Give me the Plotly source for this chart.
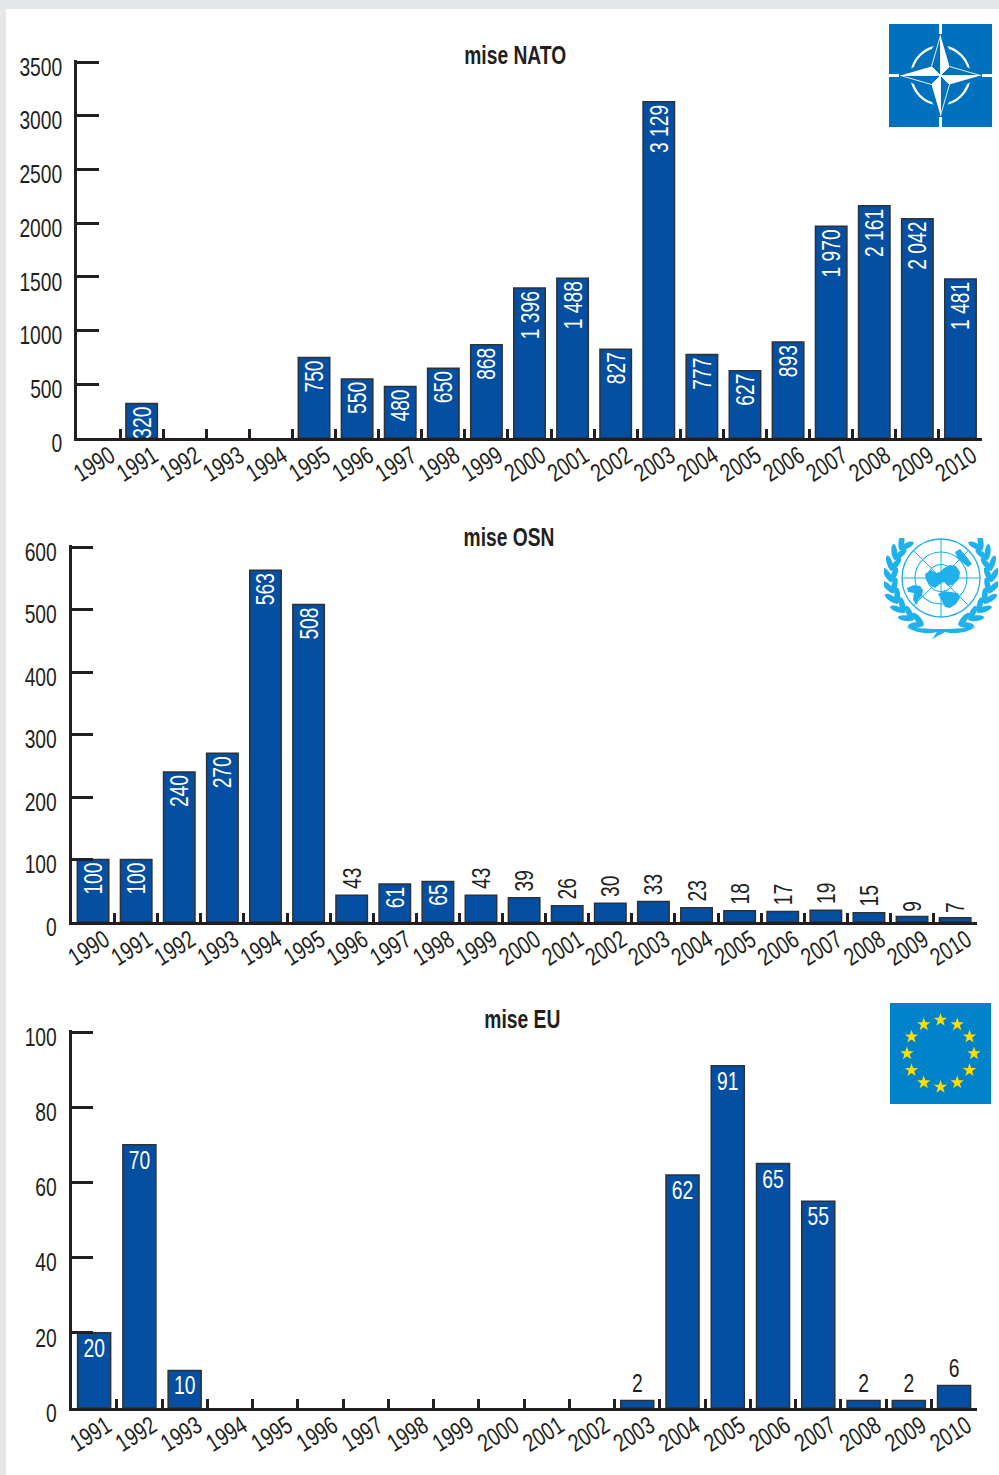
import base64, math
import plotly.graph_objects as go

W, H = 999, 1475
FONT = "Liberation Sans, Arial, sans-serif"
FS = 25
INK = "#231f20"
BAR = "#044fa2"

years_nato = list(range(1990, 2011))
values_nato = [None, 320, None, None, None, 750, 550, 480, 650, 868, 1396, 1488,
               827, 3129, 777, 627, 893, 1970, 2161, 2042, 1481]
ticks_nato = [0, 500, 1000, 1500, 2000, 2500, 3000, 3500]

years_osn = list(range(1990, 2011))
values_osn = [100, 100, 240, 270, 563, 508, 43, 61, 65, 43, 39, 26, 30, 33, 23,
              18, 17, 19, 15, 9, 7]
ticks_osn = [0, 100, 200, 300, 400, 500, 600]

years_eu = list(range(1991, 2011))
values_eu = [20, 70, 10, None, None, None, None, None, None, None, None, None,
             2, 62, 91, 65, 55, 2, 2, 6]
ticks_eu = [0, 20, 40, 60, 80, 100]


def svg_uri(body, w, h):
    s = f'<svg xmlns="http://www.w3.org/2000/svg" width="{w}" height="{h}" viewBox="0 0 {w} {h}">{body}</svg>'
    return "data:image/svg+xml;base64," + base64.b64encode(s.encode()).decode()


def nato_logo():
    c = 51.5
    b = '<rect width="103" height="103" fill="#0071bc"/>'
    b += f'<circle cx="{c}" cy="{c}" r="29" fill="none" stroke="#fff" stroke-width="2.4"/>'
    for a in range(0, 360, 90):
        b += (f'<g transform="rotate({a} {c} {c})">'
              f'<polygon points="{c},{c-42} {c+10},{c-24} {c},{c} {c-10},{c-24}" fill="#0071bc"/>'
              f'<rect x="{c-1.5}" y="0" width="3" height="10" fill="#fff"/></g>')
    for a in range(0, 360, 90):
        b += (f'<g transform="rotate({a} {c} {c})">'
              f'<polygon points="{c},{c-40} {c+9},{c-9} {c},{c}" fill="#fff"/>'
              f'<polygon points="{c},{c-40} {c-9},{c-9} {c},{c}" fill="#0071bc" stroke="#fff" stroke-width="0.9"/>'
              f'</g>')
    return svg_uri(b, 103, 103)


def eu_logo():
    b = '<rect width="101" height="101" fill="#0083ca"/>'
    c = 50.5
    for i in range(12):
        a = math.radians(i * 30)
        x, y = c + 33.5 * math.sin(a), c - 33.5 * math.cos(a)
        pts = []
        for k in range(10):
            r = 7 if k % 2 == 0 else 2.8
            t = math.radians(k * 36)
            pts.append(f"{x + r * math.sin(t):.2f},{y - r * math.cos(t):.2f}")
        b += f'<polygon points="{" ".join(pts)}" fill="#ffdd00"/>'
    return svg_uri(b, 101, 101)


def un_logo():
    col = "#1fb1ec"
    cx, cy = 57, 40
    b = ""
    for r, sw in ((39, 1.3), (26, 1.1), (13.5, 1.1)):
        b += f'<circle cx="{cx}" cy="{cy}" r="{r}" fill="none" stroke="{col}" stroke-width="{sw}"/>'
    for a in range(0, 180, 45):
        t = math.radians(a)
        dx, dy = 39 * math.cos(t), 39 * math.sin(t)
        b += f'<line x1="{cx-dx:.1f}" y1="{cy-dy:.1f}" x2="{cx+dx:.1f}" y2="{cy+dy:.1f}" stroke="{col}" stroke-width="1"/>'
    for p in [
        "41,36 47,32 52,35 56,34 60,30 66,27 72,28 76,34 75,41 70,46 64,48 60,44 56,46 51,50 46,47 42,42",
        "23,50 30,47 36,48 39,52 38,58 34,62 33,67 29,62 30,55 24,54",
        "54,56 60,53 67,54 74,55 76,60 72,66 66,70 61,69 58,63",
        "71,14 76,11 82,18 88,26 84,29 78,24 73,19",
    ]:
        b += f'<polygon points="{p}" fill="{col}"/>'
    leaves = ""
    R = 50
    for i in range(9):
        phi = math.radians(22 + i * 13)
        x, y = cx - R * math.sin(phi), cy + R * math.cos(phi)
        base = math.atan2(-math.sin(phi), -math.cos(phi))
        for off in (-0.5, 0.5):
            d = base + off
            xx, yy = x + 6.5 * math.cos(d), y + 6.5 * math.sin(d)
            leaves += (f'<ellipse cx="{xx:.1f}" cy="{yy:.1f}" rx="8" ry="2.9" fill="{col}" '
                       f'transform="rotate({math.degrees(d):.1f} {xx:.1f} {yy:.1f})"/>')
    b += leaves + f'<g transform="translate({2*cx} 0) scale(-1 1)">{leaves}</g>'
    b += f'<path d="M22 89 Q42 91 57 91 Q72 91 92 89 Q76 98 61 94 L48 101 L53 94 Q38 98 22 89 Z" fill="{col}"/>'
    return svg_uri(b, 114, 102)


def px(v):
    return v / W


def py(v):
    return 1 - v / H


PANELS = [
    dict(years=years_nato, values=values_nato, ticks=ticks_nato, top=3500, x0=77, x1=982, y0=438, y1=62,
         min_inside=100, angle=-90, title="mise NATO", tx=515, ty=55),
    dict(years=years_osn, values=values_osn, ticks=ticks_osn, top=600, x0=71.5, x1=976.7, y0=922, y1=547,
         min_inside=50, angle=-90, title="mise OSN", tx=509, ty=537),
    dict(years=years_eu, values=values_eu, ticks=ticks_eu, top=100, x0=71.5, x1=976.7, y0=1408, y1=1032,
         min_inside=8, angle=0, title="mise EU", tx=522, ty=1019),
]

fig = go.Figure()
layout = dict(
    width=W, height=H, autosize=False, margin=dict(l=0, r=0, t=0, b=0, pad=0),
    paper_bgcolor="#e6e7e9", plot_bgcolor="rgba(0,0,0,0)", showlegend=False,
    font=dict(family=FONT, size=FS, color=INK),
    shapes=[dict(type="rect", xref="paper", yref="paper", x0=px(6), x1=1, y0=0, y1=py(9),
                 fillcolor="white", line_width=0, layer="below")],
    annotations=[], images=[],
)

HEAD = 2  # px of headroom so the top tick is not dropped at the range end
for n, p in enumerate(PANELS, start=1):
    idx = list(range(len(p["years"])))
    labels = [None if v is None else f"{v:,}".replace(",", " ") for v in p["values"]]
    pos = ["outside" if (v is not None and v < p["min_inside"]) else "inside" for v in p["values"]]
    s = "" if n == 1 else str(n)
    span = p["y0"] - p["y1"]
    fig.add_trace(go.Bar(
        x=idx, y=p["values"], text=labels, textposition=pos, textangle=p["angle"],
        insidetextanchor="end", constraintext="none", cliponaxis=False,
        insidetextfont=dict(family=FONT, size=FS, color="white"),
        outsidetextfont=dict(family=FONT, size=FS, color=INK),
        marker=dict(color=BAR, line=dict(color="#2e3135", width=1.5)),
        width=0.73, xaxis=f"x{s}", yaxis=f"y{s}", hoverinfo="skip",
    ))
    layout[f"xaxis{s}"] = dict(
        domain=[px(p["x0"]), px(p["x1"])], anchor=f"y{s}", range=[-0.5, len(idx) - 0.5],
        tickmode="array", tickvals=[-0.5] + [i + 0.5 for i in idx],
        ticktext=[""] + [str(y) for y in p["years"]],
        tickangle=-32, ticks="inside", ticklen=9, tickwidth=2.5, tickcolor=INK,
        showline=True, linecolor=INK, linewidth=2.5, showgrid=False, zeroline=False,
        ticklabelstandoff=-9, ticklabelshift=-10,
        automargin=False, tickfont=dict(family=FONT, size=FS, color=INK),
    )
    layout[f"yaxis{s}"] = dict(
        domain=[py(p["y0"]), py(p["y1"] - HEAD)], anchor=f"x{s}",
        range=[0, p["top"] * (1 + HEAD / span)],
        tickmode="array", tickvals=p["ticks"], ticktext=[str(t) for t in p["ticks"]],
        ticks="inside", ticklen=22, tickwidth=2.5, tickcolor=INK,
        showline=True, linecolor=INK, linewidth=2.5, showgrid=False, zeroline=False,
        ticklabelstandoff=7, ticklabelshift=5,
        automargin=False, tickfont=dict(family=FONT, size=FS, color=INK),
    )
    layout["annotations"].append(dict(
        text=f"<b>{p['title']}</b>", xref="paper", yref="paper", x=px(p["tx"]), y=py(p["ty"]),
        xanchor="center", yanchor="middle", showarrow=False,
        font=dict(family=FONT, size=FS, color=INK),
    ))

for src, x, y, w, h in ((nato_logo(), 889, 24, 103, 103), (un_logo(), 884, 538, 114, 102), (eu_logo(), 890, 1003, 101, 101)):
    layout["images"].append(dict(source=src, xref="paper", yref="paper", x=px(x), y=py(y),
                                 sizex=w / W, sizey=h / H, xanchor="left", yanchor="top",
                                 sizing="stretch", layer="above"))

fig.update_layout(**layout)

# No condensed face is installed: squeeze the real text along its baseline,
# then pull the inside bar labels back against the bar's end.
NARROW_JS = """
document.body.style.margin='0';document.body.style.overflow='hidden';
function narrowText(){
  document.querySelectorAll('svg.main-svg text').forEach(function(t){
    if(t.getAttribute('data-nw')||!t.textContent.trim())return;
    var L=t.getComputedTextLength();
    t.setAttribute('data-nw','1');
    t.setAttribute('textLength',(L*0.77).toFixed(2));
    t.setAttribute('lengthAdjust','spacingAndGlyphs');
    if(t.classList.contains('bartext')&&(t.style.fill||'').indexOf('255')>=0){
      if((t.getAttribute('transform')||'').indexOf('rotate(-90')>=0){t.setAttribute('dx',(L*0.115).toFixed(2));}
      else{t.setAttribute('dy','-2');}
    }
  });
}
narrowText();setTimeout(narrowText,100);
"""
fig.write_html("out.html", config=dict(displayModeBar=False), post_script=NARROW_JS)
